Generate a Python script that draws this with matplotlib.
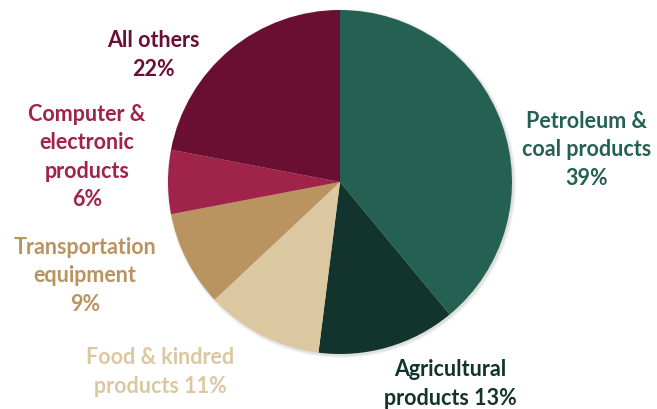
import matplotlib.pyplot as plt
from matplotlib.patches import Circle

labels = ['Petroleum &\ncoal products\n39%', 'Agricultural\nproducts 13%',
          'Food & kindred\nproducts 11%', 'Transportation\nequipment\n9%',
          'Computer &\nelectronic\nproducts\n6%', 'All others\n22%']
shares = [39, 13, 11, 9, 6, 22]
colors = ['#256152', '#12342d', '#dcc8a0', '#b99461', '#a02349', '#6a0f31']
label_xy = [(587, 150), (450, 384), (160, 372), (85, 276), (87, 157), (153, 55)]

cx, cy, r = 340, 410 - 183, 172

fig = plt.figure(figsize=(6.57, 4.10), dpi=100)
ax = fig.add_axes([0, 0, 1, 1])

# soft shadow behind the pie
for i, a in enumerate([0.06, 0.06, 0.08]):
    ax.add_patch(Circle((cx + 1.5, cy - 1.5), r + 2.5 - i, color='#555555', alpha=a, lw=0, zorder=0))

ax.pie(shares, colors=colors, startangle=90, counterclock=False,
       center=(cx, cy), radius=r, frame=True,
       wedgeprops=dict(linewidth=0.3, edgecolor='none', antialiased=True))

for lab, (x, y), c in zip(labels, label_xy, colors):
    ax.text(x, 410 - y, lab, ha='center', va='center', color=c, fontsize=15.5,
            fontweight='bold', family='Lato', linespacing=1.45)

ax.set_xlim(0, 657)
ax.set_ylim(0, 410)
ax.axis('off')
fig.savefig('out.png', dpi=100)
